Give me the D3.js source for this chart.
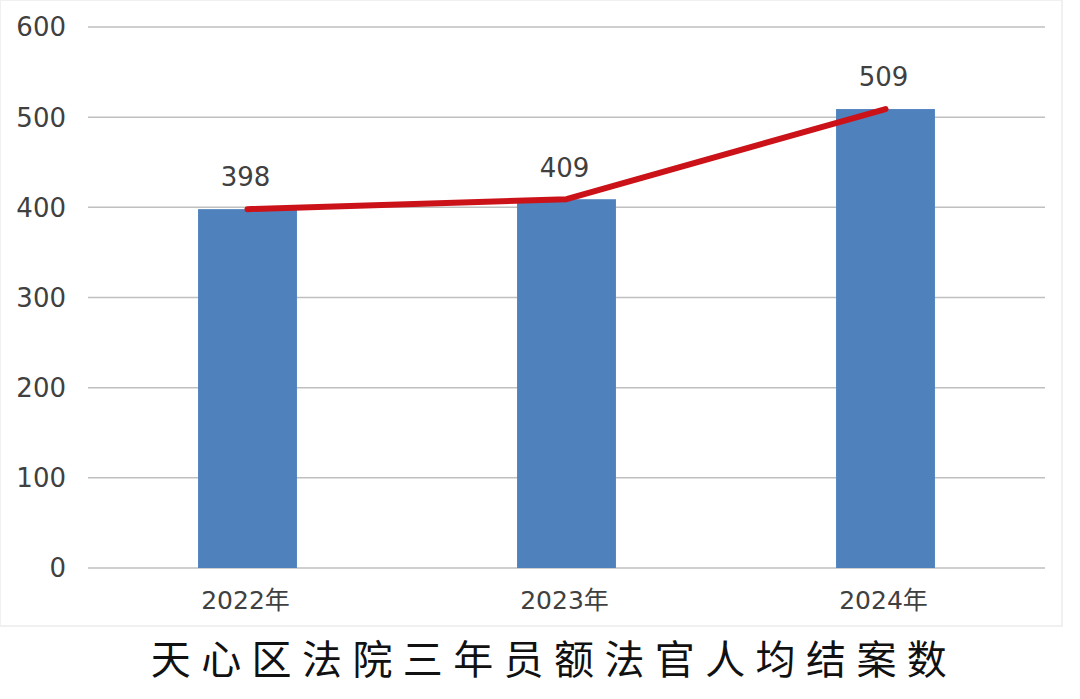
<!DOCTYPE html>
<html>
<head>
<meta charset="utf-8">
<script src="https://cdn.jsdelivr.net/npm/d3@7"></script>
<style>
  body { margin: 0; background: #fff; }
  svg { display: block; }
</style>
</head>
<body>
<div id="chart"></div>
<script>
var years = ["2022年", "2023年", "2024年"];
var cases = [398, 409, 509];
var yTicks = [0, 100, 200, 300, 400, 500, 600];
var title = "天心区法院三年员额法官人均结案数";

var width = 1080, height = 699;
var plotLeft = 88, plotRight = 1045, plotTop = 27, plotBottom = 568;

var svg = d3.select("#chart").append("svg")
  .attr("width", width)
  .attr("height", height);

// faint panel behind the chart
svg.append("rect")
  .attr("x", 0).attr("y", 0)
  .attr("width", 1062).attr("height", 626)
  .attr("fill", "#fff")
  .attr("stroke", "#f0f0f0")
  .attr("stroke-width", 2);

var x = d3.scaleBand()
  .domain(years)
  .range([plotLeft, plotRight])
  .paddingInner(0.69)
  .paddingOuter(0.345);

var y = d3.scaleLinear()
  .domain([0, 600])
  .range([plotBottom, plotTop]);

// gridlines
svg.append("g")
  .selectAll("line")
  .data(yTicks)
  .join("line")
  .attr("x1", plotLeft).attr("x2", plotRight)
  .attr("y1", function(d) { return y(d); })
  .attr("y2", function(d) { return y(d); })
  .attr("stroke", "#bfbfbf")
  .attr("stroke-width", 1.5);

// y tick labels
svg.append("g")
  .selectAll("text")
  .data(yTicks)
  .join("text")
  .attr("x", 66)
  .attr("y", function(d) { return y(d); })
  .attr("dy", "0.36em")
  .attr("text-anchor", "end")
  .attr("fill", "#404040")
  .style("font-family", "'DejaVu Sans', sans-serif")
  .style("font-size", "26px")
  .text(function(d) { return d; });

// bars
svg.append("g")
  .selectAll("rect")
  .data(cases)
  .join("rect")
  .attr("x", function(d, i) { return x(years[i]); })
  .attr("y", function(d) { return y(d); })
  .attr("width", x.bandwidth())
  .attr("height", function(d) { return y(0) - y(d); })
  .attr("fill", "#4f81bd");

// x labels
svg.append("g")
  .selectAll("text")
  .data(years)
  .join("text")
  .attr("x", function(d) { return x(d) + x.bandwidth() / 2 - 2; })
  .attr("y", 600)
  .attr("dy", "0.36em")
  .attr("text-anchor", "middle")
  .attr("fill", "#404040")
  .style("font-family", "'DejaVu Sans', 'Noto Sans CJK SC', sans-serif")
  .style("font-size", "25px")
  .text(function(d) { return d; });

// trend line
var line = d3.line()
  .x(function(d, i) { return x(years[i]) + x.bandwidth() / 2; })
  .y(function(d) { return y(d); });

svg.append("path")
  .datum(cases)
  .attr("d", line)
  .attr("fill", "none")
  .attr("stroke", "#cc1219")
  .attr("stroke-width", 6)
  .attr("stroke-linecap", "round")
  .attr("stroke-linejoin", "round");

// value labels
svg.append("g")
  .selectAll("text")
  .data(cases)
  .join("text")
  .attr("x", function(d, i) { return x(years[i]) + x.bandwidth() / 2 - 2; })
  .attr("y", function(d) { return y(d) - 32; })
  .attr("dy", "0.36em")
  .attr("text-anchor", "middle")
  .attr("fill", "#404040")
  .style("font-family", "'DejaVu Sans', sans-serif")
  .style("font-size", "26px")
  .text(function(d) { return d; });

// title
svg.append("text")
  .attr("x", 554)
  .attr("y", 660)
  .attr("dy", "0.36em")
  .attr("text-anchor", "middle")
  .attr("fill", "#111")
  .style("font-family", "'Noto Sans CJK SC', sans-serif")
  .style("font-size", "40px")
  .style("letter-spacing", "10.4px")
  .text(title);
</script>
</body>
</html>
